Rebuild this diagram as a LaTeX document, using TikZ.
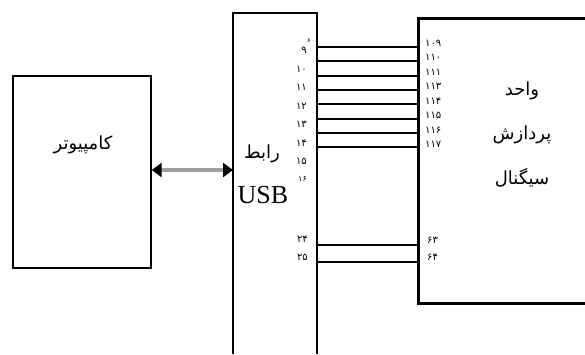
\documentclass[tikz,border=0pt]{standalone}
\usepackage{fontspec}
\setmainfont{Liberation Serif}
\newfontfamily\arabicfont[Script=Arabic]{DejaVu Sans}
\TeXXeTstate=1
\usetikzlibrary{arrows.meta}
\tikzset{
  box/.style={draw, line width=1.4pt},
  usbline/.style={line width=1.1pt},
  dspline/.style={line width=3pt},
  wire/.style={line width=1.5pt},
  pinL/.style={anchor=east, inner sep=0pt, font=\arabicfont\fontsize{10}{10}\selectfont},
  pinR/.style={anchor=west, inner sep=0pt, font=\arabicfont\fontsize{10}{10}\selectfont},
  word/.style={inner sep=0pt, font=\arabicfont\fontsize{18}{18}\selectfont},
  bus/.style={line width=4pt, gray!75,
    {Triangle[length=10pt,width=14pt,color=black]}-{Triangle[length=10pt,width=14pt,color=black]}}
}
\begin{document}
\begin{tikzpicture}[x=1pt,y=-1pt]
\useasboundingbox (0,0) rectangle (585,354);
% computer
\node[box, minimum width=138pt, minimum height=192pt, inner sep=0pt] (comp) at (82,172) {};
\node[word] (compt) at (83,145) {\beginR کامپیوتر\endR};
% USB interface (open at the bottom)
\coordinate (usbBL) at (233,354);
\coordinate (usbTL) at (233,13);
\coordinate (usbTR) at (317,13);
\coordinate (usbBR) at (317,354);
\draw[usbline] (usbBL) -- (usbTL) -- (usbTR) -- (usbBR);
\node[word] (usbw) at (262,154) {\beginR رابط\endR};
\node[inner sep=0pt, font=\fontsize{26}{26}\selectfont] (usbt) at (263,195) {USB};
% DSP unit (open at the right)
\coordinate (dspTR) at (586,18);
\coordinate (dspTL) at (418,18);
\coordinate (dspBL) at (418,303);
\coordinate (dspBR) at (586,303);
\draw[dspline] (dspTR) -- (dspTL) -- (dspBL) -- (dspBR);
\node[word] (d1) at (522,91) {\beginR واحد\endR};
\node[word] (d2) at (522,135) {\beginR پردازش\endR};
\node[word] (d3) at (522,178) {\beginR سیگنال\endR};
% bidirectional bus
\coordinate (usbIn) at (233,170);
\draw[bus] (comp.east |- usbIn) -- (usbIn);
% wires
\foreach \i/\y in {1/47,2/61,3/76,4/90,5/104,6/119,7/133,8/147,9/245,10/262}{
  \coordinate (wa\i) at (317,\y);
  \coordinate (wb\i) at (418,\y);
  \draw[wire] (wa\i) -- (wb\i);
}
% left pin numbers
\node[pinL] (p9) at (307,50) {۹};
\node[inner sep=0pt, font=\arabicfont\fontsize{6}{6}\selectfont] (p8) at (309,41) {۸};
\node[pinL] (p10) at (307,69) {۱۰};
\node[pinL] (p11) at (307,87.5) {۱۱};
\node[pinL] (p12) at (307,106) {۱۲};
\node[pinL] (p13) at (307,124.5) {۱۳};
\node[pinL] (p14) at (307,143) {۱۴};
\node[pinL] (p15) at (307,161.5) {۱۵};
\node[pinL, font=\arabicfont\fontsize{8}{8}\selectfont] (p16) at (307,179) {۱۶};
\node[pinL] (p24) at (308,239) {۲۴};
\node[pinL] (p25) at (308,257) {۲۵};
% right pin numbers
\node[pinR] (q109) at (425,43.3) {۱۰۹};
\node[pinR] (q110) at (425,57.8) {۱۱۰};
\node[pinR] (q111) at (425,72.3) {۱۱۱};
\node[pinR] (q113) at (425,86.8) {۱۱۳};
\node[pinR] (q114) at (425,101.3) {۱۱۴};
\node[pinR] (q115) at (425,115.8) {۱۱۵};
\node[pinR] (q116) at (425,130.3) {۱۱۶};
\node[pinR] (q117) at (425,144.8) {۱۱۷};
\node[pinR] (q63) at (427,240) {۶۳};
\node[pinR] (q64) at (427,257) {۶۴};
\end{tikzpicture}
\end{document}
